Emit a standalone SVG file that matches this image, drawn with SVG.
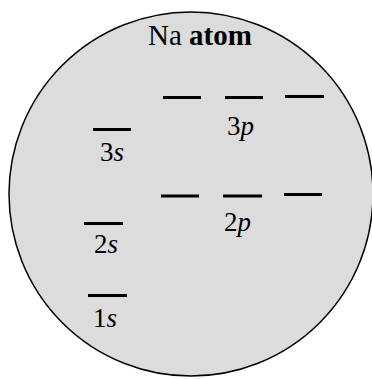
<svg xmlns="http://www.w3.org/2000/svg" width="372" height="379" viewBox="0 0 372 379">
<style>
.lvl{stroke:#000;stroke-width:3;fill:none}
.lb{font-family:"Liberation Serif",serif;font-size:27px;fill:#000}
.it{font-style:italic}
.tt{font-family:"Liberation Serif",serif;font-size:29px;font-weight:bold;fill:#000}
</style>
<rect width="372" height="379" fill="#fff"/>
<g id="atom">
<circle cx="191" cy="194" r="182" fill="#dcdcdc" stroke="#000" stroke-width="1.5"/>
<text class="tt" x="148" y="45"><tspan font-weight="normal">Na</tspan> atom</text>
</g>
<g id="levels">
<g id="s3"><line class="lvl" x1="93" y1="129.5" x2="131" y2="129.5"/><text class="lb" x="100" y="161">3<tspan class="it">s</tspan></text></g>
<g id="s2"><line class="lvl" x1="84" y1="223.5" x2="123" y2="223.5"/><text class="lb" x="94" y="253">2<tspan class="it">s</tspan></text></g>
<g id="s1"><line class="lvl" x1="88" y1="295.5" x2="127" y2="295.5"/><text class="lb" x="93" y="327">1<tspan class="it">s</tspan></text></g>
<g id="p3">
<line class="lvl" x1="163" y1="97.5" x2="201" y2="97.5"/>
<line class="lvl" x1="225" y1="97.5" x2="263" y2="97.5"/>
<line class="lvl" x1="285" y1="96.5" x2="324" y2="96.5"/>
<text class="lb" x="227" y="135">3<tspan class="it">p</tspan></text>
</g>
<g id="p2">
<line class="lvl" x1="161" y1="196" x2="199" y2="196"/>
<line class="lvl" x1="223" y1="196" x2="262" y2="196"/>
<line class="lvl" x1="284" y1="194.5" x2="322" y2="194.5"/>
<text class="lb" x="224" y="231">2<tspan class="it">p</tspan></text>
</g>
</g>
</svg>
